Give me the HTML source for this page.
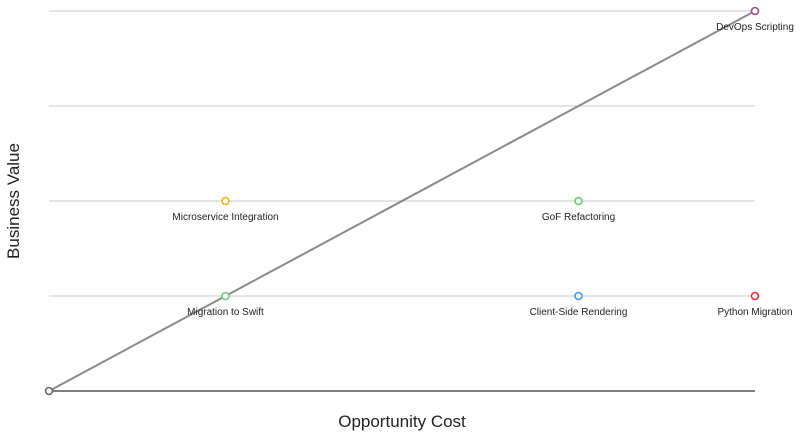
<!DOCTYPE html>
<html><head><meta charset="utf-8"><style>
body{margin:0;background:#fff;width:800px;height:433px;overflow:hidden}
svg{display:block;font-family:"Liberation Sans",sans-serif}
</style></head><body>
<svg id="chart" width="800" height="433">
<g id="grid"></g>
<g id="marks"></g>
<text x="402" y="427" text-anchor="middle" font-size="17" fill="#222">Opportunity Cost</text>
<text transform="translate(19,201) rotate(-90)" text-anchor="middle" font-size="17" fill="#222">Business Value</text>
</svg>
<script>
const labels=["","DevOps Scripting","Microservice Integration","GoF Refactoring","Migration to Swift","Client-Side Rendering","Python Migration"];
const xVals=[0,4,1,3,1,3,4];
const yVals=[0,4,2,2,1,1,1];
const colors=["#666","#a04a8c","#f0b020","#6c6","#7c7","#3a9de0","#e03030"];
const yTicks=[0,1,2,3,4];
const trendX=[0,4],trendY=[0,4];
const X=v=>49+v*(755-49)/4, Y=v=>391-v*(391-11)/4;
const NS="http://www.w3.org/2000/svg";
function mk(t,a,p){const e=document.createElementNS(NS,t);for(const k in a)e.setAttribute(k,a[k]);p.appendChild(e);return e;}
const grid=document.getElementById('grid'),marks=document.getElementById('marks');
yTicks.forEach(t=>{const l=mk('line',{x1:49,x2:755,y1:Y(t),y2:Y(t),stroke:t===0?'#555':'#c8c8c8','stroke-width':t===0?1.5:1},grid);

});
const tl=mk('line',{x1:X(trendX[0]),y1:Y(trendY[0]),x2:X(trendX[1]),y2:Y(trendY[1]),stroke:'#8a8a8a','stroke-width':2},marks);


xVals.forEach((v,i)=>{
const c=mk('circle',{cx:X(v),cy:Y(yVals[i]),r:3.5,fill:'#fff',stroke:colors[i],'stroke-width':1.6},marks);


if(labels[i]){const t=mk('text',{x:X(v),y:Y(yVals[i])+19,'text-anchor':'middle','font-size':10,fill:'#222'},marks);t.textContent=labels[i];

}
});
</script>
</body></html>
